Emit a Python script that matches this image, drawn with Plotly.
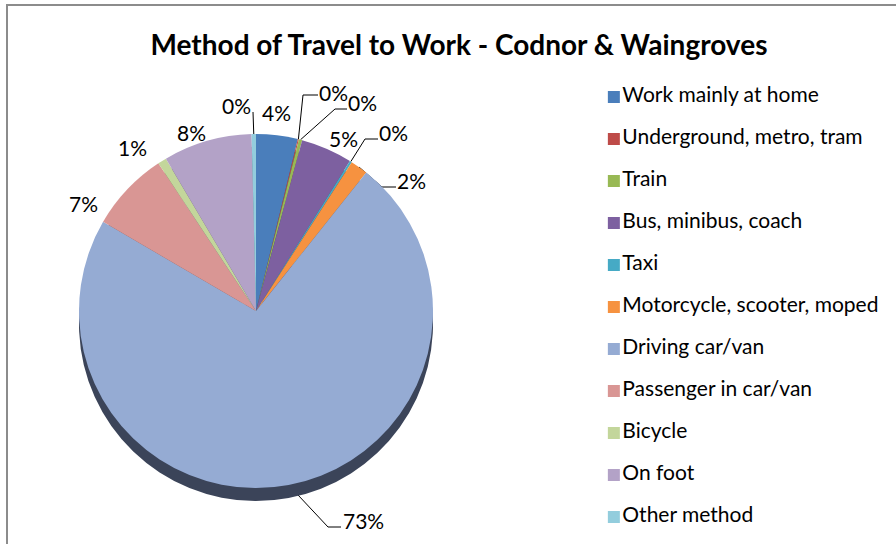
import math
import plotly.graph_objects as go

categories = ["Work mainly at home", "Underground, metro, tram", "Train",
              "Bus, minibus, coach", "Taxi", "Motorcycle, scooter, moped",
              "Driving car/van", "Passenger in car/van", "Bicycle", "On foot",
              "Other method"]
shares = [3.8, 0.1, 0.3, 4.7, 0.2, 1.6, 72.7, 7.3, 0.8, 8.1, 0.4]
colors = ["#4A7EBB", "#BE4B48", "#98B954", "#7D60A0", "#46AAC5", "#F69240",
          "#95ABD3", "#D99694", "#C3D69B", "#B3A2C7", "#93CDDD"]
side_colors = ["#2E4A6E", "#6E2A28", "#566B2E", "#47365C", "#276272", "#8D5222",
               "#3B4459", "#7D5453", "#6E7A57", "#665C72", "#54767F"]

# label layout (pixel positions of label centres, leader-line elbows)
label_pos = [(276, 112), (333, 92), (362, 102), (343, 138), (393, 132),
             (411, 180), (363, 520), (83, 203), (132, 147), (191, 132),
             (236, 105)]
leader_pts = {1: [(303, 95), (318, 95)], 2: [(335, 109), (347, 109)],
              4: [(365, 139), (378, 139)], 5: [(382, 187), (396, 187)],
              6: [(328, 527), (341, 527)], 10: [(253, 112)]}

FONT = "Lato"
W, H = 896, 544
CX, CY, R, DEPTH = 256, 311, 177, 13

fig = go.Figure()

# 3D rim (shadow pie slightly lower)
fig.add_trace(go.Pie(
    values=shares, labels=categories, sort=False, direction="clockwise",
    marker=dict(colors=side_colors, line=dict(width=0)),
    textinfo="none", hoverinfo="skip", showlegend=False,
    domain=dict(x=[(CX - R) / W, (CX + R) / W],
                y=[1 - (CY + R + DEPTH) / H, 1 - (CY - R + DEPTH) / H]),
))

fig.add_trace(go.Pie(
    values=shares, labels=categories, sort=False, direction="clockwise",
    marker=dict(colors=colors, line=dict(width=0)),
    textinfo="none", showlegend=False,
    domain=dict(x=[(CX - R) / W, (CX + R) / W],
                y=[1 - (CY + R) / H, 1 - (CY - R) / H]),
))

# leader lines, anchored at each slice's mid-angle on the pie edge
total = sum(shares)
lx, ly = [], []
cum = 0.0
anchors = []
for v in shares:
    th = 2 * math.pi * (cum + v / 2) / total
    anchors.append((CX + R * math.sin(th), CY - R * math.cos(th)))
    cum += v
for i, pts in leader_pts.items():
    seq = [anchors[i]] + pts
    lx += [p[0] for p in seq] + [None]
    ly += [p[1] for p in seq] + [None]
fig.add_trace(go.Scatter(x=lx, y=ly, mode="lines",
                         line=dict(color="#000000", width=1),
                         hoverinfo="skip", showlegend=False,
                         xaxis="x3", yaxis="y3"))

# Legend drawn as a category-axis scatter
fig.add_trace(go.Scatter(
    x=[0] * len(categories), y=categories, mode="markers+text",
    marker=dict(symbol="square", size=12, color=colors),
    text=categories, textposition="middle right",
    textfont=dict(family=FONT, size=21, color="#000000"),
    hoverinfo="skip", showlegend=False, cliponaxis=False,
    xaxis="x2", yaxis="y2",
))

annotations = []
for v, (px, py) in zip(shares, label_pos):
    annotations.append(dict(
        x=px, y=py, xref="x3", yref="y3", showarrow=False,
        text=f"{round(v / total * 100)}%",
        font=dict(family=FONT, size=21, color="#000000"),
        xanchor="center", yanchor="middle"))

fig.update_layout(
    width=W, height=H,
    margin=dict(l=0, r=0, t=0, b=0),
    paper_bgcolor="white", plot_bgcolor="rgba(0,0,0,0)",
    title=dict(text="<b>Method of Travel to Work - Codnor & Waingroves</b>",
               x=459 / W, xanchor="center", y=1 - 45 / H, yanchor="middle",
               font=dict(family=FONT, size=28, color="#000000")),
    xaxis2=dict(domain=[0.6785, 1.0], range=[-0.021, 1], visible=False,
                fixedrange=True),
    yaxis2=dict(domain=[1 - 538 / H, 1 - 76 / H], type="category",
                categoryorder="array", categoryarray=categories,
                range=[len(categories) - 0.5, -0.5], visible=False,
                fixedrange=True),
    xaxis3=dict(domain=[0, 1], range=[0, W], visible=False, fixedrange=True),
    yaxis3=dict(domain=[0, 1], range=[H, 0], visible=False, fixedrange=True),
    annotations=annotations,
    shapes=[dict(type="rect", xref="paper", yref="paper",
                 x0=7 / W, x1=1.02, y0=-0.02, y1=1 - 5 / H,
                 line=dict(color="#8C8C8C", width=2))],
)

fig.write_html("out.html", config={"displayModeBar": False},
               post_script="document.body.style.margin='0';")
